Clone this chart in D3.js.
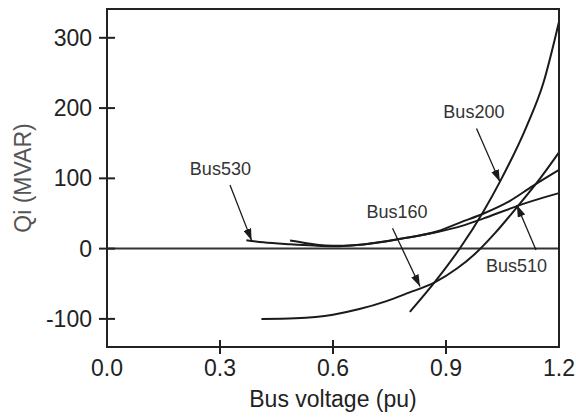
<!DOCTYPE html>
<html>
<head>
<meta charset="utf-8">
<script src="https://cdn.jsdelivr.net/npm/d3@7"></script>
<style>
  body { margin: 0; background: #fff; }
  text { font-family: "Liberation Sans", Arial, sans-serif; }
</style>
</head>
<body>
<svg id="chart"></svg>
<script>
// Q-V curves (x = bus voltage pu, y = MVAR)
const bus530X = [0.37, 0.415, 0.486, 0.55, 0.6, 0.68, 0.78, 0.88, 0.94, 1.0, 1.07, 1.13, 1.2];
const bus530Y = [12, 9, 6.2, 4.3, 3.5, 6, 14, 24, 32, 43, 57, 68, 79];

const bus510X = [0.486, 0.53, 0.58, 0.62, 0.68, 0.78, 0.88, 0.937, 1.0, 1.07, 1.13, 1.2];
const bus510Y = [11.4, 7.7, 4.5, 4, 6, 14, 25, 37, 50, 68, 89, 112];

const bus160X = [0.41, 0.5, 0.6, 0.67, 0.74, 0.8, 0.87, 0.93, 0.98, 1.03, 1.09, 1.15, 1.2];
const bus160Y = [-100, -99, -94, -86, -75, -63, -48, -28, -6, 22, 60, 100, 137];

const bus200X = [0.804, 0.871, 0.937, 0.999, 1.043, 1.114, 1.158, 1.2];
const bus200Y = [-90, -47, 0.5, 52.6, 95, 174, 235, 323];

const xTicks = [0.0, 0.3, 0.6, 0.9, 1.2];
const yTicks = [-100, 0, 100, 200, 300];

// label text, label anchor, arrow tail, arrow tip (data units)
const labels = ["Bus530", "Bus200", "Bus160", "Bus510"];
const labelX = [0.22, 0.893, 0.689, 1.006];
const labelY = [104.8, 185.4, 43.2, -32.7];
const tailX = [0.3265, 0.981, 0.758, 1.139];
const tailY = [90.6, 171, 29, -1.8];
const tipX = [0.384, 1.043, 0.831, 1.088];
const tipY = [11.4, 95.3, -54, 62];

const width = 576;
const height = 418;
const margin = { top: 9, right: 17, bottom: 71, left: 107 };

const svg = d3.select("#chart").attr("width", width).attr("height", height);

const x = d3.scaleLinear().domain([0, 1.2]).range([margin.left, width - margin.right]);
const y = d3.scaleLinear().domain([-140, 341]).range([height - margin.bottom, margin.top]);

const ink = "#1a1a1a";

// arrow head marker
svg.append("defs")
  .append("marker")
  .attr("id", "head")
  .attr("markerUnits", "userSpaceOnUse")
  .attr("viewBox", "0 0 12 8")
  .attr("refX", 12)
  .attr("refY", 4)
  .attr("markerWidth", 12)
  .attr("markerHeight", 8)
  .attr("orient", "auto")
  .append("path")
  .attr("d", "M0,0L12,4L0,8Z")
  .attr("fill", ink);

// zero line
svg.append("line")
  .attr("x1", x(0))
  .attr("x2", x(1.2))
  .attr("y1", y(0))
  .attr("y2", y(0))
  .attr("stroke", "#333")
  .attr("stroke-width", 2);

// curves
const series = [
  [bus530X, bus530Y],
  [bus510X, bus510Y],
  [bus160X, bus160Y],
  [bus200X, bus200Y],
];
const line = d3.line()
  .x((d) => x(d[0]))
  .y((d) => y(d[1]))
  .curve(d3.curveMonotoneX);

series.forEach(([xs, ys]) => {
  svg.append("path")
    .datum(xs.map((v, i) => [v, ys[i]]))
    .attr("d", line)
    .attr("fill", "none")
    .attr("stroke", ink)
    .attr("stroke-width", 2);
});

// frame
svg.append("rect")
  .attr("x", x(0))
  .attr("y", y(341))
  .attr("width", x(1.2) - x(0))
  .attr("height", y(-140) - y(341))
  .attr("fill", "none")
  .attr("stroke", "#222")
  .attr("stroke-width", 2);

// y ticks crossing the axis
const yAxis = svg.append("g");
yTicks.forEach((t) => {
  yAxis.append("line")
    .attr("x1", x(0) - 8)
    .attr("x2", x(0) + 8)
    .attr("y1", y(t))
    .attr("y2", y(t))
    .attr("stroke", "#222")
    .attr("stroke-width", 2);
  yAxis.append("text")
    .attr("x", x(0) - 15)
    .attr("y", y(t))
    .attr("dy", "0.35em")
    .attr("text-anchor", "end")
    .attr("font-size", 23)
    .attr("fill", "#222")
    .text(t);
});

// x ticks (interior ones only show a mark)
const xAxis = svg.append("g");
xTicks.forEach((t, i) => {
  if (i > 0 && i < xTicks.length - 1) {
    xAxis.append("line")
      .attr("x1", x(t))
      .attr("x2", x(t))
      .attr("y1", y(-140) - 7)
      .attr("y2", y(-140) + 7)
      .attr("stroke", "#222")
      .attr("stroke-width", 2);
  }
  xAxis.append("text")
    .attr("x", x(t))
    .attr("y", y(-140) + 29)
    .attr("text-anchor", "middle")
    .attr("font-size", 23)
    .attr("fill", "#222")
    .text(t.toFixed(1));
});

// axis titles
svg.append("text")
  .attr("x", (x(0) + x(1.2)) / 2)
  .attr("y", 407)
  .attr("text-anchor", "middle")
  .attr("font-size", 23)
  .attr("fill", "#222")
  .text("Bus voltage (pu)");

svg.append("text")
  .attr("transform", `translate(31,${(y(341) + y(-140)) / 2}) rotate(-90)`)
  .attr("text-anchor", "middle")
  .attr("font-size", 23)
  .attr("fill", "#555")
  .text("Qi (MVAR)");

// annotations
labels.forEach((name, i) => {
  svg.append("line")
    .attr("x1", x(tailX[i]))
    .attr("y1", y(tailY[i]))
    .attr("x2", x(tipX[i]))
    .attr("y2", y(tipY[i]))
    .attr("stroke", ink)
    .attr("stroke-width", 1.3)
    .attr("marker-end", "url(#head)");
  svg.append("text")
    .attr("x", x(labelX[i]))
    .attr("y", y(labelY[i]))
    .attr("font-size", 18)
    .attr("fill", "#333")
    .text(name);
});
</script>
</body>
</html>
